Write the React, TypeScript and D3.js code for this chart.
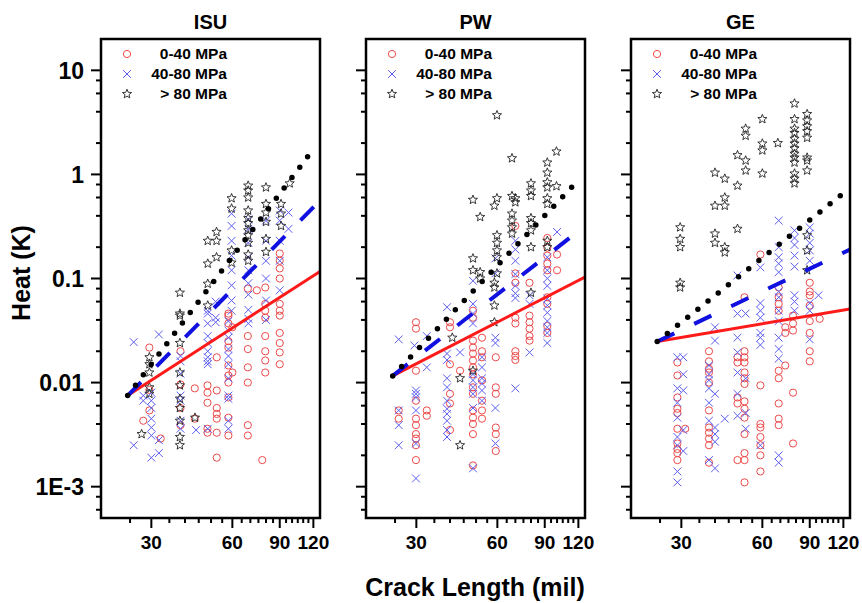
import React from 'react';
import * as d3 from 'd3';

type Col = [number, number[]];
type Pt = [number, number];

const panelTitles = ['ISU', 'PW', 'GE'];
const legendLabels = ['0-40 MPa', '40-80 MPa', '> 80 MPa'];
const xMajorTicks = [30, 60, 90, 120];
const xMinorTicks = [25, 35, 40, 45, 50, 55, 65, 70, 75, 80, 85, 95, 100, 105, 110, 115];
const yMajorTicks = [0.001, 0.01, 0.1, 1, 10];
const yTickLabels = ['1E-3', '0.01', '0.1', '1', '10'];
const yMinorTicks = [0.0006, 0.0008, 0.002, 0.004, 0.006, 0.008, 0.02, 0.04, 0.06, 0.08, 0.2, 0.4, 0.6, 0.8, 2, 4, 6, 8];

// ISU
const isuLow: Col[] = [
  [28, [0.0043]],
  [29.5, [0.0217, 0.0054, 0.0085]],
  [32.5, [0.0029]],
  [38.5, [0.02, 0.0096, 0.0057, 0.0039]],
  [43.5, [0.0088, 0.0045]],
  [48.5, [0.0094, 0.008, 0.0064, 0.0036, 0.0033]],
  [52.5, [0.0175, 0.0084, 0.0057, 0.005, 0.0045, 0.0033, 0.0019]],
  [58, [0.046, 0.044, 0.037, 0.025, 0.0217, 0.0146, 0.0117, 0.01, 0.0072, 0.0046, 0.0031]],
  [60, [0.034, 0.0125]],
  [68.5, [0.08, 0.028, 0.021, 0.014, 0.01, 0.0039, 0.0031]],
  [74, [0.077]],
  [77.5, [0.0018]],
  [79.5, [0.082, 0.057, 0.049, 0.042, 0.028, 0.02, 0.0163, 0.0125]],
  [90, [0.174, 0.148, 0.125, 0.1, 0.057, 0.049, 0.044, 0.03, 0.024, 0.0195, 0.015]],
];
const isuMid: Col[] = [
  [25.8, [0.0245, 0.0025]],
  [28, [0.0067, 0.0075]],
  [30, [0.008, 0.0067, 0.0057, 0.0045, 0.0037, 0.0031, 0.0019]],
  [32, [0.029, 0.0028, 0.0021]],
  [38.5, [0.018, 0.016, 0.0122, 0.0075, 0.0067, 0.0043, 0.0036]],
  [44, [0.0035]],
  [48.6, [0.049, 0.046, 0.037, 0.028, 0.024, 0.02, 0.0175, 0.016, 0.015, 0.0036]],
  [52, [0.06, 0.042, 0.038]],
  [58, [0.039, 0.0316, 0.027, 0.021, 0.018, 0.015, 0.011, 0.0075, 0.007, 0.0043, 0.0036]],
  [59.6, [0.42, 0.32, 0.23, 0.166, 0.12, 0.086, 0.0615, 0.049]],
  [68.8, [0.37, 0.3, 0.22, 0.16, 0.12, 0.09, 0.07, 0.05, 0.041, 0.037]],
  [80, [0.36, 0.23, 0.148, 0.1, 0.0615, 0.04]],
  [90, [0.45, 0.36, 0.23, 0.148, 0.077]],
  [97, [0.43, 0.3]],
];
const isuHigh: Col[] = [
  [27.6, [0.0032]],
  [29.5, [0.0175, 0.015, 0.0125, 0.009, 0.0078]],
  [38.3, [0.073, 0.046, 0.044, 0.024, 0.0125, 0.0094, 0.007, 0.0057, 0.0043, 0.003, 0.0025]],
  [43.6, [0.0046]],
  [48.6, [0.23, 0.139, 0.089, 0.055]],
  [52.4, [0.28, 0.23, 0.16]],
  [59.6, [0.59, 0.47, 0.186, 0.142]],
  [68.7, [0.78, 0.7, 0.6, 0.45, 0.38, 0.34, 0.29, 0.26, 0.22, 0.17, 0.148]],
  [80, [0.75, 0.52, 0.43, 0.35, 0.24, 0.18]],
  [91, [0.52, 0.42, 0.32]],
  [98, [0.82]],
];

// PW
const pwLow: Col[] = [
  [25.8, [0.0054, 0.0045]],
  [29.9, [0.038, 0.033, 0.013, 0.0067, 0.0045, 0.0039, 0.0032, 0.0029, 0.0025, 0.0018]],
  [32.8, [0.0054, 0.0048]],
  [40, [0.038, 0.034, 0.015, 0.0078, 0.0063, 0.0035]],
  [43.6, [0.013]],
  [48.7, [0.049, 0.042, 0.0253, 0.0217, 0.019, 0.0163, 0.014, 0.012, 0.009, 0.0078, 0.0054, 0.0046, 0.004, 0.0032, 0.0016]],
  [52.6, [0.027, 0.02, 0.0175, 0.0105, 0.0067, 0.0054, 0.0045]],
  [59.2, [0.0175, 0.009, 0.0078, 0.0037, 0.0032, 0.0022]],
  [70, [0.32, 0.112, 0.091, 0.042, 0.037, 0.02, 0.018, 0.0165]],
  [79, [0.091, 0.044, 0.038, 0.033, 0.028, 0.0253]],
  [92, [0.245, 0.198, 0.166, 0.139, 0.12, 0.066, 0.057, 0.035, 0.03]],
  [100, [0.17, 0.12]],
];
const pwMid: Col[] = [
  [25.8, [0.026, 0.0054, 0.0039, 0.0025]],
  [29.5, [0.0227]],
  [29.9, [0.0084, 0.0078, 0.0072, 0.0054, 0.0026, 0.0012]],
  [32.8, [0.028, 0.014]],
  [39, [0.053, 0.019, 0.0165, 0.011, 0.009, 0.0067, 0.0056, 0.005, 0.0043, 0.0035, 0.003]],
  [43.6, [0.0195]],
  [48.7, [0.095, 0.057, 0.046, 0.037, 0.012, 0.0105, 0.009, 0.0078, 0.0057, 0.0015]],
  [52.6, [0.0175, 0.014, 0.011, 0.0098, 0.0084, 0.0067]],
  [59, [0.156, 0.112, 0.027, 0.024, 0.0057, 0.0026]],
  [70, [0.23, 0.19, 0.148, 0.11, 0.085, 0.072, 0.065, 0.0088]],
  [79, [0.069, 0.057, 0.0195]],
  [92, [0.16, 0.12, 0.1, 0.085, 0.064, 0.055, 0.047, 0.039, 0.034, 0.03, 0.024]],
  [100, [0.28]],
];
const pwHigh: Col[] = [
  [40.8, [0.027]],
  [43.6, [0.011, 0.0025]],
  [48.7, [0.57, 0.156, 0.12, 0.013]],
  [51.8, [0.39, 0.115, 0.1]],
  [58.5, [0.5, 0.091, 0.082, 0.055, 0.038]],
  [59.8, [3.7, 0.59, 0.26, 0.22, 0.186, 0.16, 0.112]],
  [68, [1.43, 0.62, 0.42, 0.36, 0.31, 0.27]],
  [70, [0.59, 0.54]],
  [80, [0.82, 0.7, 0.62, 0.38, 0.34, 0.29, 0.2, 0.073]],
  [92, [1.3, 1.04, 0.84, 0.75, 0.59, 0.52, 0.23, 0.2]],
  [99.5, [1.66, 0.77]],
];

// GE
const geLow: Col[] = [
  [29, [0.0156, 0.0117, 0.0072, 0.0056, 0.0051, 0.0036, 0.0026, 0.0023, 0.0021, 0.0018]],
  [31, [0.0036]],
  [38, [0.02, 0.016, 0.0136, 0.0125, 0.01, 0.0054, 0.0037, 0.0033, 0.0029, 0.0025, 0.0017]],
  [48.5, [0.0175, 0.0156, 0.0072, 0.0063, 0.0018]],
  [51.5, [0.066, 0.02, 0.0175, 0.0156, 0.0125, 0.011, 0.0097, 0.0066, 0.0056, 0.0046, 0.0032, 0.0021, 0.0018, 0.0011]],
  [59, [0.17, 0.0094, 0.004, 0.0037, 0.003, 0.0025, 0.002, 0.0014]],
  [69, [0.082, 0.066, 0.057, 0.049, 0.013, 0.011, 0.0063, 0.0045, 0.0039]],
  [73, [0.034, 0.03, 0.0146]],
  [78, [0.044, 0.037, 0.0316, 0.008, 0.0026]],
  [90, [0.091, 0.075, 0.069, 0.055, 0.039, 0.03, 0.02, 0.016]],
  [98, [0.041]],
];
const geMid: Col[] = [
  [29, [0.0175, 0.0088, 0.0064, 0.0046, 0.003, 0.0025, 0.0014, 0.0011]],
  [30.5, [0.0175, 0.012, 0.0084, 0.0035, 0.0022]],
  [38, [0.0146, 0.012, 0.0105, 0.0088, 0.0064, 0.0043, 0.0018]],
  [40, [0.034, 0.0253, 0.0078, 0.0037, 0.0032, 0.0027, 0.0015]],
  [43.5, [0.0045]],
  [48.5, [0.107, 0.046, 0.027, 0.0195, 0.0125, 0.0078, 0.0048]],
  [52, [0.046, 0.011, 0.0051, 0.0036]],
  [59, [0.128, 0.058, 0.049, 0.042, 0.03, 0.027, 0.023, 0.0025]],
  [69, [0.36, 0.2, 0.16, 0.139, 0.115, 0.075, 0.066, 0.049, 0.039, 0.027, 0.021, 0.017, 0.002, 0.0017]],
  [79, [0.29, 0.245, 0.21, 0.166, 0.13, 0.069, 0.06, 0.049]],
  [90, [0.31, 0.27, 0.22, 0.186, 0.148, 0.058, 0.049, 0.026]],
  [97, [0.069]],
];
const geHigh: Col[] = [
  [29.7, [0.31, 0.24, 0.2, 0.091, 0.082]],
  [40, [1.04, 0.5, 0.27, 0.22]],
  [43.5, [0.91, 0.6, 0.5, 0.2, 0.178]],
  [48.5, [1.53, 0.78, 0.3]],
  [52, [2.75, 2.35, 1.36, 1.09]],
  [60, [3.4, 1.98, 1.7, 1.02]],
  [68.5, [2.0]],
  [79, [4.8, 3.4, 2.75, 2.5, 2.2, 1.98, 1.78, 1.58, 1.45, 1.3, 1.02, 0.91, 0.82]],
  [88, [3.8, 3.3, 2.9, 2.6, 2.25, 1.45, 1.36, 1.09, 0.26, 0.186, 0.12]],
];

// power-law fit end points
const isuFitLow: Pt[] = [[24.5, 0.0075], [127, 0.117]];
const isuFitMid: Pt[] = [[24.5, 0.0075], [127, 0.56]];
const isuFitHigh: Pt[] = [[24.5, 0.0075], [121, 1.8]];
const pwFitLow: Pt[] = [[24.5, 0.0116], [127, 0.103]];
const pwFitMid: Pt[] = [[24.5, 0.0116], [127, 0.32]];
const pwFitHigh: Pt[] = [[24.5, 0.0116], [119, 0.86]];
const geFitLow: Pt[] = [[24.4, 0.0248], [127, 0.051]];
const geFitMid: Pt[] = [[24.4, 0.0248], [127, 0.19]];
const geFitHigh: Pt[] = [[24.4, 0.0248], [121, 0.67]];

const FONT = '"Liberation Sans", Arial, sans-serif';
const TOP = 39;
const BOTTOM = 518;
const PANEL_W = 219;
const panelLefts = [101, 366, 631];
const RED = '#ec4a4a';
const BLUE = '#5c5cf0';

const starPath = (() => {
  const pts: string[] = [];
  for (let i = 0; i < 10; i++) {
    const r = i % 2 === 0 ? 4.8 : 2.1;
    const a = -Math.PI / 2 + (i * Math.PI) / 5;
    pts.push(`${(r * Math.cos(a)).toFixed(2)},${(r * Math.sin(a)).toFixed(2)}`);
  }
  return 'M' + pts.join('L') + 'Z';
})();

const flat = (cols: Col[]): Pt[] => cols.flatMap(([cx, ys]) => ys.map(v => [cx, v] as Pt));

function Marker({ kind, cx, cy }: { kind: number; cx: number; cy: number }) {
  if (kind === 0) return <circle cx={cx} cy={cy} r={3.6} fill="none" stroke={RED} strokeWidth={1} />;
  if (kind === 1)
    return (
      <path d={`M${cx - 3.9},${cy - 3.9}L${cx + 3.9},${cy + 3.9}M${cx - 3.9},${cy + 3.9}L${cx + 3.9},${cy - 3.9}`}
        stroke={BLUE} strokeWidth={1} fill="none" />
    );
  return <path d={starPath} transform={`translate(${cx},${cy})`} fill="none" stroke="#222" strokeWidth={0.9} />;
}

function Panel({ idx, low, mid, high, fitLow, fitMid, fitHigh }: any) {
  const left = panelLefts[idx];
  const x = d3.scaleLog().domain([19.5, 127]).range([left, left + PANEL_W]);
  const y = d3.scaleLog().domain([5e-4, 20]).range([BOTTOM, TOP]);
  const line = d3.line<Pt>().x(d => x(d[0])).y(d => y(d[1]));
  const clipId = `clip${idx}`;
  const series = [flat(low), flat(mid), flat(high)];

  return (
    <g>
      <clipPath id={clipId}>
        <rect x={left} y={TOP} width={PANEL_W} height={BOTTOM - TOP} />
      </clipPath>
      <text x={left + PANEL_W / 2} y={29} textAnchor="middle" fontFamily={FONT} fontWeight="bold" fontSize={20}>
        {panelTitles[idx]}
      </text>

      <g clipPath={`url(#${clipId})`}>
        {series.map((pts, k) => (
          <g key={k}>
            {pts.map((d, i) => <Marker key={i} kind={k} cx={x(d[0])} cy={y(d[1])} />)}
          </g>
        ))}
        <path d={line(fitLow) || ''} stroke="#ff1a1a" strokeWidth={3} fill="none" />
        <path d={line(fitMid) || ''} stroke="#1010e0" strokeWidth={4} fill="none" strokeDasharray="19 22" />
        <path d={line(fitHigh) || ''} stroke="#000" strokeWidth={5.5} fill="none" strokeDasharray="0 13" strokeLinecap="round" />
      </g>

      {/* legend */}
      {legendLabels.map((lab, k) => {
        const ly = 54 + k * 20;
        return (
          <g key={lab}>
            <Marker kind={k} cx={left + 26} cy={ly} />
            <text x={left + 126} y={ly} dy="0.35em" textAnchor="end" fontFamily={FONT} fontWeight="bold" fontSize={15.5}>
              {lab}
            </text>
          </g>
        );
      })}

      {/* y ticks */}
      {yMajorTicks.map((t, i) => (
        <g key={t}>
          <line x1={left - 10} x2={left} y1={y(t)} y2={y(t)} stroke="#000" strokeWidth={2} />
          {idx === 0 && (
            <text x={84} y={y(t)} dy="0.36em" textAnchor="end" fontFamily={FONT} fontWeight="bold" fontSize={23}>
              {yTickLabels[i]}
            </text>
          )}
        </g>
      ))}
      {yMinorTicks.map(t => (
        <line key={t} x1={left - 5} x2={left} y1={y(t)} y2={y(t)} stroke="#000" strokeWidth={2} />
      ))}

      {/* x ticks */}
      {xMajorTicks.map(t => (
        <g key={t}>
          <line x1={x(t)} x2={x(t)} y1={BOTTOM} y2={BOTTOM + 10} stroke="#000" strokeWidth={2} />
          <text x={x(t)} y={549} textAnchor="middle" fontFamily={FONT} fontWeight="bold" fontSize={19}>
            {t}
          </text>
        </g>
      ))}
      {xMinorTicks.map(t => (
        <line key={t} x1={x(t)} x2={x(t)} y1={BOTTOM} y2={BOTTOM + 5} stroke="#000" strokeWidth={2} />
      ))}

      <rect x={left} y={TOP} width={PANEL_W} height={BOTTOM - TOP} fill="none" stroke="#000" strokeWidth={2.5} />
    </g>
  );
}

export default function App() {
  return (
    <svg width={862} height={603} style={{ position: 'fixed', left: 0, top: 0, background: '#fff' }}>
      <rect width={862} height={603} fill="#fff" />
      <Panel idx={0} low={isuLow} mid={isuMid} high={isuHigh} fitLow={isuFitLow} fitMid={isuFitMid} fitHigh={isuFitHigh} />
      <Panel idx={1} low={pwLow} mid={pwMid} high={pwHigh} fitLow={pwFitLow} fitMid={pwFitMid} fitHigh={pwFitHigh} />
      <Panel idx={2} low={geLow} mid={geMid} high={geHigh} fitLow={geFitLow} fitMid={geFitMid} fitHigh={geFitHigh} />
      <text transform="translate(30,273) rotate(-90)" textAnchor="middle" fontFamily={FONT} fontWeight="bold" fontSize={25}>
        Heat (K)
      </text>
      <text x={475} y={596} textAnchor="middle" fontFamily={FONT} fontWeight="bold" fontSize={25}>
        Crack Length (mil)
      </text>
    </svg>
  );
}
